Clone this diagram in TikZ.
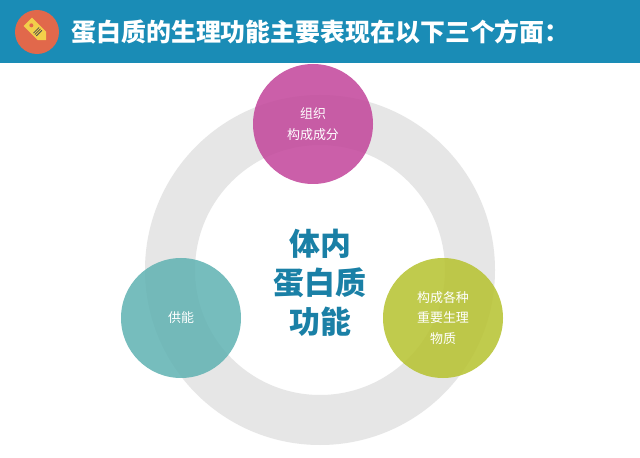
\documentclass[tikz,border=0pt]{standalone}
\usepackage{fontspec}
\newfontfamily\cjk{Noto Sans CJK SC}
\usetikzlibrary{positioning}
\definecolor{barblue}{HTML}{1A8CB6}
\definecolor{ringgray}{HTML}{E6E6E6}
\definecolor{tagorange}{HTML}{E1684B}
\definecolor{tagyellow}{HTML}{F2CF4A}
\definecolor{bubmag}{HTML}{C2449A}
\definecolor{bubteal}{HTML}{5FB2B2}
\definecolor{bubolive}{HTML}{B6C22E}
\definecolor{centerblue}{HTML}{1A80A6}
\tikzset{
	bubble/.style={circle,minimum size=120bp,inner sep=0pt,fill opacity=.85,text opacity=1,
		text=white,align=center,font=\cjk\fontsize{13}{21}\selectfont},
}
\begin{document}
\begin{tikzpicture}[x=1bp,y=-1bp]
	\useasboundingbox (0,0) rectangle (640,458);
	\fill[white] (0,0) rectangle (640,458);
	\fill[barblue] (0,0) rectangle (640,63);
	\fill[tagorange] (37,32) circle (22);
	\begin{scope}[shift={(37,31)},rotate=-45]
		\fill[tagyellow] (-13,-6) -- (7,-6) -- (13,0) -- (7,6) -- (-13,6) -- cycle;
		\fill[tagorange] (-8,0) circle (2);
		\foreach \i in {-1,1,3}
			\draw[gray!60!black,line width=.8] (\i,-4) -- (\i,4);
	\end{scope}
	\node[anchor=west,text=white,font=\cjk\bfseries\fontsize{25}{28}\selectfont] (title) at (68,32) {蛋白质的生理功能主要表现在以下三个方面：};

	% ring
	\fill[ringgray,even odd rule] (320,270) circle (175) (320,270) circle (125);

	\node[centerblue,align=center,font=\cjk\bfseries\fontsize{31}{39}\selectfont] (core) at (320,283) {体内\\蛋白质\\功能};

	\node[bubble,fill=bubmag] (zuzhi) at (313,124) {组织\\构成成分};
	\node[bubble,fill=bubteal] (gongneng) at (181,318) {供能};
	\node[bubble,fill=bubolive] (wuzhi) at (443,318) {构成各种\\重要生理\\物质};
\end{tikzpicture}
\end{document}
